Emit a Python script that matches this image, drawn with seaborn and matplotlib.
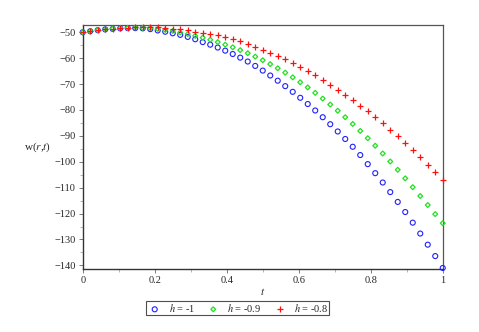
import numpy as np
import pandas as pd
import matplotlib
matplotlib.use("Agg")
import matplotlib.pyplot as plt
import seaborn as sns

sns.set_style("ticks")
plt.rcParams["font.family"] = ["Liberation Serif", "DejaVu Serif"]
plt.rcParams["mathtext.fontset"] = "stix"

# 49 sample points, t = k/48
t = np.arange(49) / 48

w_h100 = [-50.0, -49.6, -49.2, -48.9, -48.7, -48.5, -48.4, -48.4, -48.5, -48.8,
          -49.3, -49.8, -50.4, -51.0, -51.8, -52.7, -53.8, -54.8, -55.9, -57.1,
          -58.4, -59.8, -61.3, -63.0, -64.8, -66.7, -68.7, -70.8, -73.0, -75.3,
          -77.7, -80.2, -82.8, -85.5, -88.3, -91.2, -94.2, -97.4, -100.9, -104.4,
          -108.0, -111.7, -115.5, -119.4, -123.5, -127.7, -132.0, -136.4, -141.0]
w_h090 = [-50.0, -49.6, -49.2, -48.9, -48.6, -48.4, -48.3, -48.2, -48.3, -48.4,
          -48.7, -49.1, -49.5, -50.1, -50.7, -51.4, -52.1, -52.9, -53.8, -54.8,
          -55.8, -56.9, -58.1, -59.4, -60.8, -62.3, -63.9, -65.6, -67.4, -69.3,
          -71.3, -73.4, -75.6, -77.9, -80.3, -82.8, -85.4, -88.1, -90.9, -93.8,
          -96.8, -99.9, -103.1, -106.4, -109.8, -113.2, -116.7, -120.2, -123.7]
w_h080 = [-50.0, -49.6, -49.2, -48.9, -48.6, -48.4, -48.2, -48.1, -48.1, -48.1,
          -48.1, -48.3, -48.6, -48.8, -49.2, -49.8, -50.2, -50.6, -51.1, -51.7,
          -52.6, -53.5, -54.5, -55.6, -56.7, -57.9, -59.1, -60.4, -61.8, -63.3,
          -64.9, -66.6, -68.4, -70.2, -72.1, -74.1, -76.2, -78.3, -80.5, -82.8,
          -85.2, -87.7, -90.2, -92.8, -95.5, -98.3, -101.2, -104.1, -107.1]

labels = ["$h$ = -1", "$h$ = -0.9", "$h$ = -0.8"]

df = pd.DataFrame({"t": np.tile(t, 3),
                   "w": w_h100 + w_h090 + w_h080,
                   "h": np.repeat(labels, len(t))})

fig = plt.figure(figsize=(4.79, 3.32), dpi=100)
ax = fig.add_axes([0.1727, 0.1889, 0.7516, 0.7358])

styles = {
    labels[0]: dict(marker="o", s=13, facecolor="none", edgecolor="#2020ff", linewidth=0.8),
    labels[1]: dict(marker="D", s=6, facecolor="none", edgecolor="#20e020", linewidth=0.9),
    labels[2]: dict(marker="+", s=20, color="#ff1010", linewidth=0.9),
}
for lab in labels:
    sub = df[df["h"] == lab]
    sns.scatterplot(data=sub, x="t", y="w", ax=ax, label=lab, legend=False,
                    clip_on=False, zorder=3, **styles[lab])

ax.set_xlim(0, 1)
ax.set_ylim(-141.5, -47.2)
ax.set_xticks([0, 0.2, 0.4, 0.6, 0.8, 1])
ax.set_xticklabels(["0", "0.2", "0.4", "0.6", "0.8", "1"])
ax.set_yticks(np.arange(-140, -49, 10))
ax.set_xticks(np.arange(0.1, 1, 0.2), minor=True)
ax.set_yticks(np.arange(-135, -49, 10), minor=True)
ax.tick_params(axis="both", which="major", labelsize=7.5, length=3, width=0.6,
               color="#666666", pad=2)
ax.tick_params(axis="both", which="minor", length=2, width=0.5, color="#999999")
ax.tick_params(axis="x", pad=1.5)

for side in ["left", "bottom"]:
    ax.spines[side].set_color("#333333")
    ax.spines[side].set_linewidth(1.0)
for side in ["top", "right"]:
    ax.spines[side].set_visible(True)
    ax.spines[side].set_color("#555555")
    ax.spines[side].set_linewidth(0.9)

ax.set_xlabel("$t$", fontsize=8, labelpad=1)
ax.set_ylabel("w($r$,$t$)", fontsize=8, rotation=0, labelpad=12, va="center")

handles, labs = ax.get_legend_handles_labels()
leg = fig.legend(handles, labs, ncol=3, loc="upper center",
                 bbox_to_anchor=(0.4958, 0.0934), bbox_transform=fig.transFigure,
                 fontsize=7.5, frameon=True, fancybox=False, borderpad=0.1,
                 handletextpad=0.6, columnspacing=1.0, handlelength=1.5,
                 borderaxespad=0)
leg.get_frame().set_edgecolor("#222222")
leg.get_frame().set_linewidth(0.8)

fig.savefig("out.png", dpi=100)
